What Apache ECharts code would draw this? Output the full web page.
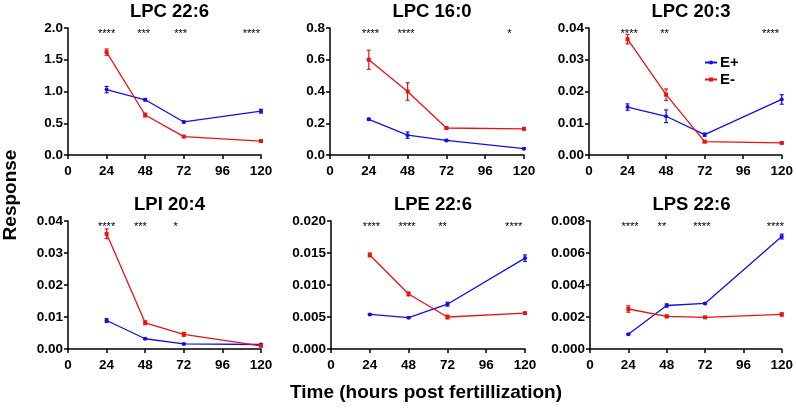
<!DOCTYPE html>
<html><head><meta charset="utf-8">
<script src="https://cdn.jsdelivr.net/npm/echarts@6/dist/echarts.min.js"></script>
<style>html,body{margin:0;padding:0;background:#fff}#c{width:796px;height:408px}</style>
</head><body><div id="c"></div>
<script>
const times = [24, 48, 72, 120];
const xTicks = [0, 24, 48, 72, 96, 120];
const titles = ['LPC 22:6', 'LPC 16:0', 'LPC 20:3', 'LPI 20:4', 'LPE 22:6', 'LPS 22:6'];
const yMax = [2.0, 0.8, 0.04, 0.04, 0.020, 0.008];
const yStep = [0.5, 0.2, 0.01, 0.01, 0.005, 0.002];
const yDigits = [1, 1, 2, 2, 3, 3];

const ePlus = [
  [1.03, 0.87, 0.52, 0.69],
  [0.225, 0.125, 0.092, 0.040],
  [0.0151, 0.0122, 0.0064, 0.0175],
  [0.0089, 0.0032, 0.0016, 0.0014],
  [0.0054, 0.0049, 0.0070, 0.0142],
  [0.00092, 0.00272, 0.00285, 0.00703]
];
const ePlusErr = [
  [0.05, 0.02, 0.015, 0.03],
  [0.006, 0.02, 0.006, 0.004],
  [0.001, 0.002, 0.0005, 0.0015],
  [0.0006, 0.0002, 0.0002, 0.0002],
  [0.0001, 0.0001, 0.0003, 0.0005],
  [0.00003, 0.0001, 0.00005, 0.00015]
];
const eMinus = [
  [1.62, 0.63, 0.29, 0.22],
  [0.60, 0.40, 0.170, 0.165],
  [0.0365, 0.0190, 0.0042, 0.0038],
  [0.0360, 0.0082, 0.0046, 0.0010],
  [0.0147, 0.0086, 0.0050, 0.0056],
  [0.00250, 0.00204, 0.00198, 0.00216]
];
const eMinusErr = [
  [0.05, 0.03, 0.01, 0.01],
  [0.06, 0.055, 0.006, 0.005],
  [0.0015, 0.0018, 0.0003, 0.0002],
  [0.0015, 0.0006, 0.0006, 0.0002],
  [0.0003, 0.0003, 0.0003, 0.0001],
  [0.0002, 0.00008, 0.00005, 0.0001]
];
const starX = [
  [24, 47, 70, 114],
  [25, 47, 111],
  [25, 47, 113],
  [24, 45, 67],
  [25, 47, 69, 113],
  [25, 45, 70, 116]
];
const starText = [
  ['****', '***', '***', '****'],
  ['****', '****', '*'],
  ['****', '**', '****'],
  ['****', '***', '*'],
  ['****', '****', '**', '****'],
  ['****', '**', '****', '****']
];

const grids = [
  {left: 68, top: 28, width: 193, height: 127},
  {left: 330, top: 28, width: 194, height: 127},
  {left: 589, top: 28, width: 194, height: 127},
  {left: 68, top: 221, width: 193, height: 128},
  {left: 331, top: 221, width: 194, height: 128},
  {left: 590, top: 221, width: 193, height: 128}
];
const BLUE = '#1010ee', RED = '#ee1111';
const FONT = 'Liberation Sans, Arial, sans-serif';

const option = {
  animation: false,
  backgroundColor: '#fff',
  title: [], grid: [], xAxis: [], yAxis: [], series: [],
  legend: {
    data: ['E+', 'E-'], orient: 'vertical', left: 699, top: 50, itemGap: 2,
    itemWidth: 12, itemHeight: 5,
    textStyle: {fontFamily: FONT, fontWeight: 'bold', fontSize: 15, color: '#000', padding: [0, 0, 0, -2]}
  },
  graphic: [
    {type: 'text', x: 426, y: 393, style: {text: 'Time (hours post fertillization)', font: 'bold 19px ' + FONT, fill: '#000', textAlign: 'center', textVerticalAlign: 'middle'}},
    {type: 'text', x: 11, y: 195, rotation: Math.PI / 2, style: {text: 'Response', font: 'bold 19px ' + FONT, fill: '#000', textAlign: 'center', textVerticalAlign: 'middle'}}
  ]
};

function errSeries(i, vals, errs, color) {
  return {
    type: 'custom', xAxisIndex: i, yAxisIndex: i, silent: true, z: 3,
    data: times.map((t, k) => [t, vals[k] - errs[k], vals[k] + errs[k]]),
    renderItem: function (params, api) {
      const lo = api.coord([api.value(0), api.value(1)]);
      const hi = api.coord([api.value(0), api.value(2)]);
      const w = 2;
      return {type: 'group', children: [
        {type: 'line', shape: {x1: lo[0], y1: lo[1], x2: hi[0], y2: hi[1]}, style: {stroke: color, lineWidth: 1.2}},
        {type: 'line', shape: {x1: lo[0] - w, y1: lo[1], x2: lo[0] + w, y2: lo[1]}, style: {stroke: color, lineWidth: 1.2}},
        {type: 'line', shape: {x1: hi[0] - w, y1: hi[1], x2: hi[0] + w, y2: hi[1]}, style: {stroke: color, lineWidth: 1.2}}
      ]};
    }
  };
}

for (let i = 0; i < 6; i++) {
  const g = grids[i];
  option.grid.push(g);
  option.title.push({
    text: titles[i], left: g.left + g.width / 2, top: g.top - 31, textAlign: 'center',
    textStyle: {fontFamily: FONT, fontWeight: 'bold', fontSize: 18.5, color: '#000'}
  });
  option.xAxis.push({
    gridIndex: i, type: 'value', min: 0, max: 120, interval: 24,
    axisLine: {lineStyle: {color: '#000', width: 1.5}},
    axisTick: {show: true, length: 4, lineStyle: {color: '#000', width: 1.5}},
    axisLabel: {margin: 9, color: '#000', fontFamily: FONT, fontWeight: 'bold', fontSize: 13.5},
    splitLine: {show: false}
  });
  option.yAxis.push({
    gridIndex: i, type: 'value', min: 0, max: yMax[i], interval: yStep[i],
    axisLine: {show: true, lineStyle: {color: '#000', width: 1.5}},
    axisTick: {show: true, length: 4, lineStyle: {color: '#000', width: 1.5}},
    axisLabel: {margin: 5, color: '#000', fontFamily: FONT, fontWeight: 'bold', fontSize: 13.5,
      formatter: (v) => v.toFixed(yDigits[i])},
    splitLine: {show: false}
  });
  option.series.push({
    name: 'E+', type: 'line', xAxisIndex: i, yAxisIndex: i, color: BLUE,
    data: times.map((t, k) => [t, ePlus[i][k]]),
    symbol: 'circle', symbolSize: 4, lineStyle: {width: 1.3, color: BLUE}, itemStyle: {color: BLUE}, z: 4
  });
  option.series.push({
    name: 'E-', type: 'line', xAxisIndex: i, yAxisIndex: i, color: RED,
    data: times.map((t, k) => [t, eMinus[i][k]]),
    symbol: 'rect', symbolSize: 4, lineStyle: {width: 1.3, color: RED}, itemStyle: {color: RED}, z: 4
  });
  option.series.push(errSeries(i, ePlus[i], ePlusErr[i], BLUE));
  option.series.push(errSeries(i, eMinus[i], eMinusErr[i], RED));
  option.series.push({
    type: 'custom', xAxisIndex: i, yAxisIndex: i, silent: true,
    data: starX[i].map((x, k) => [x, yMax[i] * 0.955, k]),
    renderItem: function (params, api) {
      const p = api.coord([api.value(0), api.value(1)]);
      return {type: 'text', x: p[0], y: p[1], style: {text: starText[i][api.value(2)], fill: '#000',
        font: '11px ' + FONT, textAlign: 'center', textVerticalAlign: 'middle'}};
    }
  });
}

const chart = echarts.init(document.getElementById('c'), null, {renderer: 'canvas'});
chart.setOption(option);
</script></body></html>
